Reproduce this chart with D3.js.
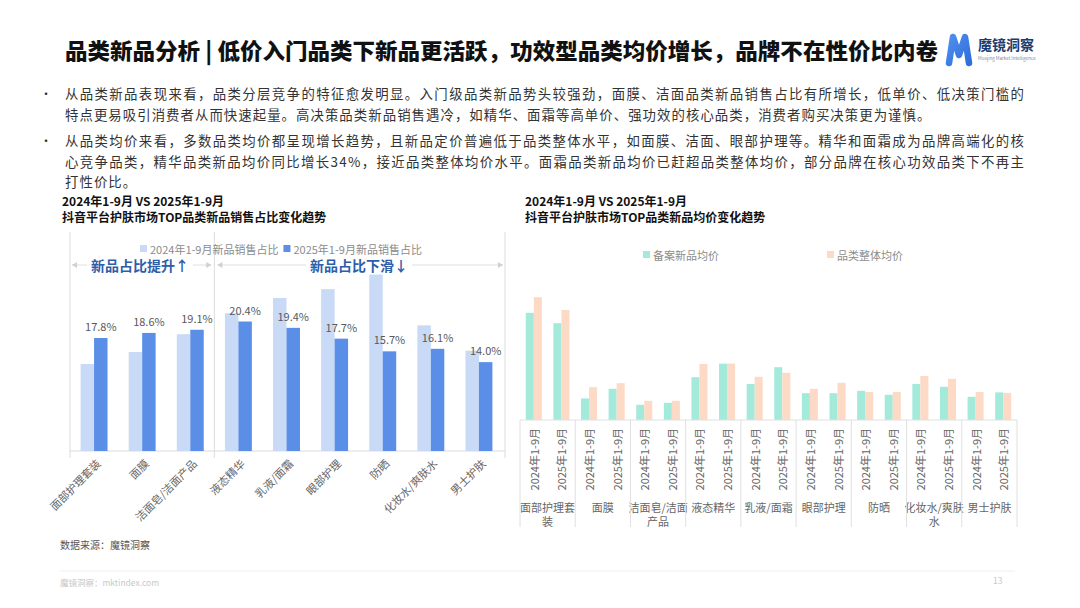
<!DOCTYPE html>
<html><head><meta charset="utf-8">
<script src="https://cdn.jsdelivr.net/npm/d3@7"></script>
<style>
body{margin:0;background:#fff;}
svg{display:block;font-family:"Noto Sans CJK SC","Noto Sans",sans-serif;}
</style>
</head><body>
<svg id="c" width="1080" height="608"></svg>
<script>
// ---------- DATA ----------
const pageTitle = "品类新品分析 | 低价入门品类下新品更活跃，功效型品类均价增长，品牌不在性价比内卷";
const bulletLines = [
  {t:"从品类新品表现来看，品类分层竞争的特征愈发明显。入门级品类新品势头较强劲，面膜、洁面品类新品销售占比有所增长，低单价、低决策门槛的", dot:true, full:true},
  {t:"特点更易吸引消费者从而快速起量。高决策品类新品销售遇冷，如精华、面霜等高单价、强功效的核心品类，消费者购买决策更为谨慎。", dot:false, full:false},
  {t:"从品类均价来看，多数品类均价都呈现增长趋势，且新品定价普遍低于品类整体水平，如面膜、洁面、眼部护理等。精华和面霜成为品牌高端化的核", dot:true, full:true},
  {t:"心竞争品类，精华品类新品均价同比增长34%，接近品类整体均价水平。面霜品类新品均价已赶超品类整体均价，部分品牌在核心功效品类下不再主", dot:false, full:true},
  {t:"打性价比。", dot:false, full:false}
];
const leftTitle = ["2024年1-9月 VS 2025年1-9月", "抖音平台护肤市场TOP品类新品销售占比变化趋势"];
const rightTitle = ["2024年1-9月 VS 2025年1-9月", "抖音平台护肤市场TOP品类新品均价变化趋势"];

const shareCategories = ["面部护理套装","面膜","洁面皂/洁面产品","液态精华","乳液/面霜","眼部护理","防晒","化妆水/爽肤水","男士护肤"];
const shareSeries = ["2024年1-9月新品销售占比","2025年1-9月新品销售占比"];
const share2024 = [13.7,15.6,18.4,21.7,24.1,25.5,27.8,19.8,15.8];
const share2025 = [17.8,18.6,19.1,20.4,19.4,17.7,15.7,16.1,14.0];
const shareNotes = ["新品占比提升↑","新品占比下滑↓"];

const priceCategories = ["面部护理套装","面膜","洁面皂/洁面产品","液态精华","乳液/面霜","眼部护理","防晒","化妆水/爽肤水","男士护肤"];
const pricePeriods = ["2024年1-9月","2025年1-9月"];
const priceSeries = ["备案新品均价","品类整体均价"];
const newPrice2024 = [268,54,38,107,90,67,73,90,58];
const newPrice2025 = [242,78,43,141,132,67,63,83,69];
const catPrice2024 = [307,82,48,140,108,78,70,110,70];
const catPrice2025 = [275,92,48,141,118,93,70,103,68];

// ---------- DRAW ----------
const svg = d3.select("#c");

// Title
svg.append("text").attr("x",65).attr("y",59).attr("font-size",22).attr("font-weight",900)
  .attr("fill","#111").attr("textLength",873).attr("lengthAdjust","spacingAndGlyphs").text(pageTitle);

// Logo
const defs = svg.append("defs");
const lg = defs.append("linearGradient").attr("id","mg").attr("x1","0").attr("y1","0").attr("x2","1").attr("y2","1");
lg.append("stop").attr("offset","0").attr("stop-color","#4f8df0");
lg.append("stop").attr("offset","1").attr("stop-color","#2f6fd8");
svg.append("path").attr("d","M949 63 L953 37 L959 55 L965 37 L969 63")
  .attr("fill","none").attr("stroke","url(#mg)").attr("stroke-width",6.5)
  .attr("stroke-linecap","round").attr("stroke-linejoin","round");
svg.append("text").attr("x",978).attr("y",50).attr("font-size",14).attr("font-weight",700).attr("fill","#1d3b6e").text("魔镜洞察");
svg.append("text").attr("x",978).attr("y",60).attr("font-size",4.5).attr("fill","#7a8aa8").text("Moojing Market Intelligence");

// Bullets
const lineY = [93,113.5,140,160.5,181];
bulletLines.forEach((l,i)=>{
  if(l.dot) svg.append("text").attr("x",40).attr("y",lineY[i]).attr("dominant-baseline","central")
    .attr("font-size",12).attr("fill","#333").text("•");
  const t = svg.append("text").attr("x",65).attr("y",lineY[i]).attr("dominant-baseline","central")
    .attr("font-size",13.4).attr("letter-spacing",1.05).attr("fill","#333").text(l.t);
  if(l.full) t.attr("textLength",960).attr("lengthAdjust","spacing");
});

// Chart titles
function chartTitle(x, lines){
  lines.forEach((s,i)=>svg.append("text").attr("x",x).attr("y",200+i*16).attr("dominant-baseline","central")
    .attr("font-size",12).attr("font-weight",700).attr("fill","#111").text(s));
}
chartTitle(62, leftTitle);
chartTitle(525, rightTitle);

// ---------- LEFT CHART ----------
const L = {x0:70, x1:503, top:232, base:451};
const xL = d3.scaleBand().domain(shareCategories).range([L.x0,L.x1]).paddingInner(0.44).paddingOuter(0.22);
const xLs = d3.scaleBand().domain(shareSeries).range([0,xL.bandwidth()]);
const yL = d3.scaleLinear().domain([0,34.5]).range([L.base,L.top]);
const shareColors = d3.scaleOrdinal().domain(shareSeries).range(["#c8daf6","#5b8fe7"]);
const gL = svg.append("g");

// frame lines
const step = xL.step();
const divX = [L.x0, L.x0 + step*3, L.x1+2];
divX.forEach(x=>gL.append("line").attr("x1",x).attr("x2",x).attr("y1",L.top).attr("y2",L.base+7)
  .attr("stroke","#dcdcdc").attr("stroke-width",1));
gL.append("line").attr("x1",L.x0).attr("x2",L.x1+2).attr("y1",L.base).attr("y2",L.base).attr("stroke","#dcdcdc");

// bars
const shareData = shareCategories.map((c,i)=>({c, vals:[share2024[i],share2025[i]]}));
const grp = gL.selectAll("g.cat").data(shareData).join("g").attr("transform",d=>`translate(${xL(d.c)},0)`);
grp.selectAll("rect").data(d=>d.vals.map((v,j)=>({s:shareSeries[j],v}))).join("rect")
  .attr("x",d=>xLs(d.s)).attr("width",xLs.bandwidth()).attr("y",d=>yL(d.v)).attr("height",d=>L.base-yL(d.v))
  .attr("fill",d=>shareColors(d.s));
grp.append("text").attr("x",d=>xLs(shareSeries[1])+xLs.bandwidth()/2).attr("y",d=>yL(d.vals[1])-12)
  .attr("text-anchor","middle").attr("dominant-baseline","central").attr("font-size",11).attr("fill","#595959")
  .text(d=>d.vals[1].toFixed(1)+"%");

// x labels rotated
gL.selectAll("text.xl").data(shareCategories).join("text").attr("class","xl")
  .attr("transform",d=>`translate(${xL(d)+xL.bandwidth()/2+4},${L.base+10}) rotate(-45)`)
  .attr("text-anchor","end").attr("dominant-baseline","central").attr("font-size",11).attr("fill","#666").text(d=>d);

// legend
let lx = 140;
shareSeries.forEach((s,i)=>{
  gL.append("rect").attr("x",lx).attr("y",245).attr("width",7).attr("height",7).attr("fill",shareColors(s));
  const t = gL.append("text").attr("x",lx+10).attr("y",249).attr("dominant-baseline","central")
    .attr("font-size",11).attr("fill","#8c8c8c").text(s);
  lx += 10 + t.node().getComputedTextLength() + 5;
});

// annotation arrows
const noteY = 265;
function arrowLine(xa, xb, label, cx){
  gL.append("line").attr("x1",xa).attr("x2",xb).attr("y1",noteY).attr("y2",noteY).attr("stroke","#dedede").attr("stroke-width",1);
  gL.append("path").attr("d",`M${xa} ${noteY} l5 -3 l0 6 z`).attr("fill","#d0d0d0");
  gL.append("path").attr("d",`M${xb} ${noteY} l-5 -3 l0 6 z`).attr("fill","#d0d0d0");
  const t = gL.append("text").attr("x",cx).attr("y",noteY).attr("text-anchor","middle").attr("dominant-baseline","central")
    .attr("font-size",14).attr("font-weight",700).attr("fill","#2d5ea9").text(label);
  const w = t.node().getComputedTextLength();
  gL.insert("rect", () => t.node()).attr("x",cx-w/2-4).attr("y",noteY-8).attr("width",w+8).attr("height",16).attr("fill","#fff");
}
arrowLine(L.x0+2, L.x0+step*3-3, shareNotes[0], 140);
arrowLine(L.x0+step*3+3, L.x1, shareNotes[1], 359);

// data source
svg.append("text").attr("x",60).attr("y",544).attr("dominant-baseline","central").attr("font-size",10).attr("fill","#555").text("数据来源：魔镜洞察");

// ---------- RIGHT CHART ----------
const R = {x0:520, x1:1017, base:420, top:270, bottom:527};
const xR = d3.scaleBand().domain(priceCategories).range([R.x0,R.x1]);
const xRp = d3.scaleBand().domain(pricePeriods).range([0,xR.bandwidth()]);
const xRs = d3.scaleBand().domain(priceSeries).range([0,xRp.bandwidth()]).paddingOuter(0.72);
const yR = d3.scaleLinear().domain([0,375]).range([R.base,R.top]);
const priceColors = d3.scaleOrdinal().domain(priceSeries).range(["#a3eadb","#fcdac5"]);
const gR = svg.append("g");

const priceData = priceCategories.map((c,i)=>({c, periods:[
  {p:pricePeriods[0], vals:[newPrice2024[i],catPrice2024[i]]},
  {p:pricePeriods[1], vals:[newPrice2025[i],catPrice2025[i]]}
]}));
const rg = gR.selectAll("g.rc").data(priceData).join("g").attr("transform",d=>`translate(${xR(d.c)},0)`);
const pg = rg.selectAll("g.p").data(d=>d.periods).join("g").attr("transform",d=>`translate(${xRp(d.p)},0)`);
pg.selectAll("rect").data(d=>d.vals.map((v,j)=>({s:priceSeries[j],v}))).join("rect")
  .attr("x",d=>xRs(d.s)).attr("width",xRs.bandwidth()).attr("y",d=>yR(d.v)).attr("height",d=>R.base-yR(d.v))
  .attr("fill",d=>priceColors(d.s));
pg.append("text").attr("transform",d=>`translate(${xRp.bandwidth()/2},${R.base+8}) rotate(-90)`)
  .attr("text-anchor","end").attr("dominant-baseline","central").attr("font-size",11).attr("fill","#666").text(d=>d.p);

// table lines
gR.append("line").attr("x1",R.x0).attr("x2",R.x1).attr("y1",R.base).attr("y2",R.base).attr("stroke","#e0e0e0");
const bounds = priceCategories.map(c=>xR(c)).concat([R.x1]);
gR.selectAll("line.v").data(bounds).join("line").attr("class","v")
  .attr("x1",d=>d).attr("x2",d=>d).attr("y1",R.base).attr("y2",R.bottom).attr("stroke","#e0e0e0");

// group labels (wrapped by width)
rg.each(function(d){
  const g = d3.select(this);
  const maxW = xR.bandwidth()+6;
  const t = g.append("text").attr("font-size",11).attr("fill","#666").attr("text-anchor","middle");
  const chars = Array.from(d.c);
  let lines=[], cur="";
  const probe = g.append("text").attr("font-size",11).attr("visibility","hidden");
  chars.forEach(ch=>{
    probe.text(cur+ch);
    if(probe.node().getComputedTextLength() > maxW && cur){ lines.push(cur); cur=ch; } else cur+=ch;
  });
  lines.push(cur); probe.remove();
  lines.forEach((s,i)=>t.append("tspan").attr("x",xR.bandwidth()/2).attr("y",507+i*14).attr("dominant-baseline","central").text(s));
});

// legend right
[[643,priceSeries[0]],[827,priceSeries[1]]].forEach(([x,s])=>{
  gR.append("rect").attr("x",x).attr("y",251).attr("width",7).attr("height",7).attr("fill",priceColors(s));
  gR.append("text").attr("x",x+10).attr("y",255).attr("dominant-baseline","central").attr("font-size",11).attr("fill","#8c8c8c").text(s);
});

// footer
svg.append("line").attr("x1",60).attr("x2",1015).attr("y1",571).attr("y2",571).attr("stroke","#efefef");
svg.append("text").attr("x",60).attr("y",582).attr("dominant-baseline","central").attr("font-size",8.5).attr("fill","#c8c8c8").text("魔镜洞察：mktindex.com");
svg.append("text").attr("x",993).attr("y",580).attr("dominant-baseline","central").attr("font-size",8.5).attr("fill","#c8c8c8").text("13");
</script>
</body></html>
